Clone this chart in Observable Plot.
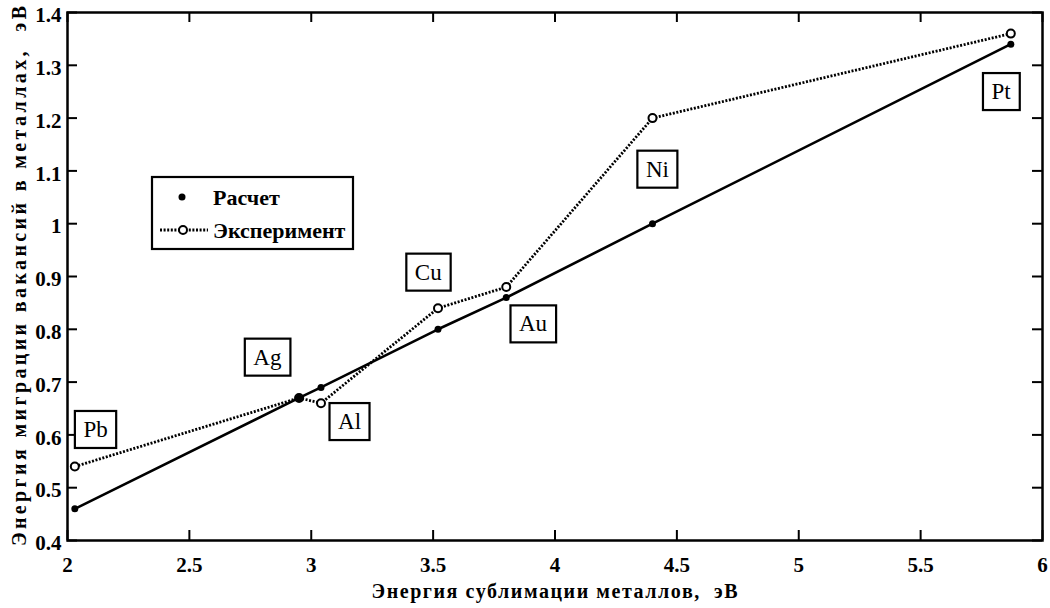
<!DOCTYPE html>
<html><head><meta charset="utf-8">
<script src="https://cdn.jsdelivr.net/npm/d3@7"></script>
<script src="https://cdn.jsdelivr.net/npm/@observablehq/plot@0.6"></script>
<style>body{margin:0;background:#fff;} #chart svg{display:block;}</style>
</head><body><div id="chart"></div>
<script>
// ---- data ----
const metals = ["Pb", "Ag", "Al", "Cu", "Au", "Ni", "Pt"];
const sublimation = [2.03, 2.95, 3.04, 3.52, 3.80, 4.40, 5.87];
const calcMigration = [0.46, 0.67, 0.69, 0.80, 0.86, 1.00, 1.34];
const expMigration = [0.54, 0.67, 0.66, 0.84, 0.88, 1.20, 1.36];
const labelX = [2.115, 2.82, 3.157, 3.48, 3.91, 4.42, 5.83];
const labelY = [0.61, 0.747, 0.625, 0.908, 0.81, 1.103, 1.25];
const xTicks = [2, 2.5, 3, 3.5, 4, 4.5, 5, 5.5, 6];
const yTicks = [0.4, 0.5, 0.6, 0.7, 0.8, 0.9, 1, 1.1, 1.2, 1.3, 1.4];
const seriesNames = ["Расчет", "Эксперимент"];
const xTitle = "Энергия сублимации металлов,  эВ";
const yTitle = "Энергия миграции вакансий в металлах,  эВ";

const calc = metals.map((m, i) => ({metal: m, x: sublimation[i], y: calcMigration[i]}));
const exp = metals.map((m, i) => ({metal: m, x: sublimation[i], y: expMigration[i]}));

const W = 1050, H = 608, mL = 67, mR = 8, mT = 12, mB = 68;
const innerW = W - mL - mR, innerH = H - mT - mB;
const tickLen = 10;
const serif = "Liberation Serif";
const dotted = "2,1.6";

const plot = Plot.plot({
  width: W, height: H,
  marginLeft: mL, marginRight: mR, marginTop: mT, marginBottom: mB,
  x: {domain: [2, 6]},
  y: {domain: [0.4, 1.4]},
  style: {fontFamily: serif, fontSize: "21px", color: "#000", background: "#fff"},
  marks: [
    Plot.tickX(xTicks, {x: d => d, insetTop: innerH - tickLen, stroke: "#000", strokeWidth: 2}),
    Plot.tickX(xTicks, {x: d => d, insetBottom: innerH - tickLen, stroke: "#000", strokeWidth: 2}),
    Plot.tickY(yTicks, {y: d => d, insetRight: innerW - tickLen, stroke: "#000", strokeWidth: 2}),
    Plot.tickY(yTicks, {y: d => d, insetLeft: innerW - tickLen, stroke: "#000", strokeWidth: 2}),
    Plot.axisX({ticks: xTicks, tickSize: 0, tickPadding: 17, tickFormat: d => String(d), label: null,
      fontFamily: serif, fontSize: 21, fontWeight: "bold", fill: "#000"}),
    Plot.axisY({ticks: yTicks, tickSize: 0, tickPadding: 6, tickFormat: d => String(d), label: null, dy: 3,
      fontFamily: serif, fontSize: 21, fontWeight: "bold", fill: "#000"}),
    Plot.line(exp, {x: "x", y: "y", stroke: "#000", strokeWidth: 2.8, strokeDasharray: dotted, strokeLinecap: "butt"}),
    Plot.line(calc, {x: "x", y: "y", stroke: "#000", strokeWidth: 2.6}),
    Plot.dot(exp, {x: "x", y: "y", r: 4, stroke: "#000", strokeWidth: 2, fill: "#fff"}),
    Plot.dot(calc, {x: "x", y: "y", r: 3.5, fill: "#000"}),
    Plot.text(metals, {x: (d, i) => labelX[i], y: (d, i) => labelY[i], text: d => d,
      fontFamily: serif, fontSize: 23, fontWeight: "normal", fill: "#000"}),
    Plot.frame({stroke: "#000", strokeWidth: 2.5})
  ]
});

document.getElementById("chart").append(plot);
const svg = d3.select(plot);
svg.selectAll("text").style("font-family", "'Liberation Serif', serif");

// boxes around metal labels
svg.selectAll("text").filter(function () { return metals.includes(this.textContent); }).each(function () {
  const b = this.getBBox();
  const w = b.width + 17, h = 37;
  const r = d3.select(this.parentNode).insert("rect", () => this)
    .attr("x", b.x + b.width / 2 - w / 2)
    .attr("y", b.y + b.height / 2 - h / 2)
    .attr("width", w).attr("height", h)
    .attr("fill", "#fff").attr("stroke", "#000").attr("stroke-width", 2.2);
  const t = this.getAttribute("transform");
  if (t) r.attr("transform", t);
});

function addText(sel) {
  return sel.append("text").style("font-family", "'Liberation Serif', serif").style("font-weight", "bold");
}

// axis titles
addText(svg)
  .attr("x", mL + innerW / 2).attr("y", 598)
  .attr("text-anchor", "middle")
  .attr("textLength", 366).attr("lengthAdjust", "spacing")
  .style("white-space", "pre").style("font-size", "20px")
  .text(xTitle);
addText(svg)
  .attr("transform", `translate(26,${mT + innerH / 2}) rotate(-90)`)
  .attr("text-anchor", "middle")
  .attr("textLength", 540).attr("lengthAdjust", "spacing")
  .style("white-space", "pre").style("font-size", "20px")
  .text(yTitle);

// legend
const lg = svg.append("g");
lg.append("rect").attr("x", 152).attr("y", 177).attr("width", 201).attr("height", 72)
  .attr("fill", "#fff").attr("stroke", "#000").attr("stroke-width", 2.2);
lg.append("circle").attr("cx", 182).attr("cy", 197).attr("r", 3.5).attr("fill", "#000");
addText(lg).attr("x", 213).attr("y", 205).attr("text-anchor", "start").style("font-size", "22px").text(seriesNames[0]);
lg.append("line").attr("x1", 160).attr("x2", 208).attr("y1", 230).attr("y2", 230)
  .attr("stroke", "#000").attr("stroke-width", 2.8).attr("stroke-dasharray", dotted);
lg.append("circle").attr("cx", 183).attr("cy", 230).attr("r", 4).attr("fill", "#fff")
  .attr("stroke", "#000").attr("stroke-width", 2);
addText(lg).attr("x", 213).attr("y", 238).attr("text-anchor", "start").style("font-size", "22px").text(seriesNames[1]);
</script>
</body></html>
